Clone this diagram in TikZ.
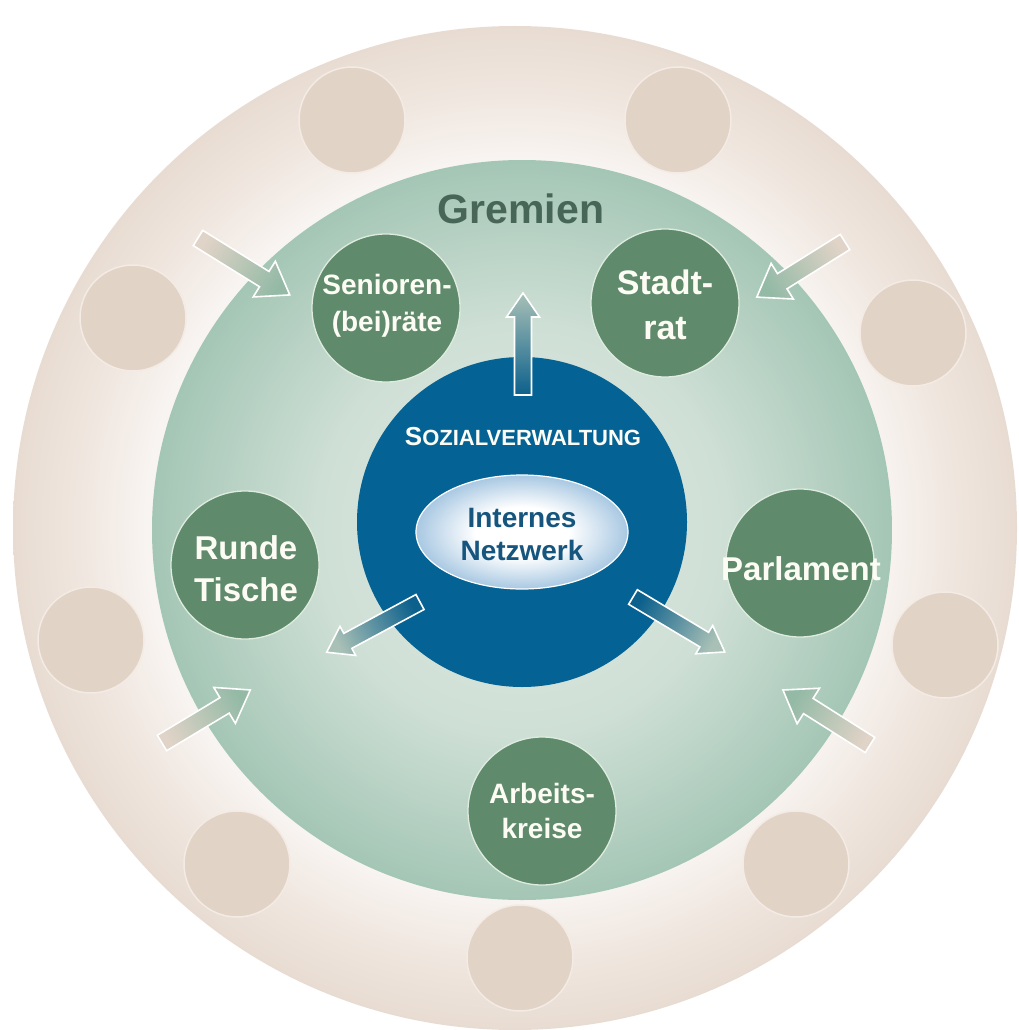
\documentclass[tikz,border=0pt]{standalone}
\usepackage{fontspec}
\setmainfont{Liberation Sans}
\usetikzlibrary{calc}

\definecolor{ringin}{RGB}{248,244,241}
\definecolor{ringmid}{RGB}{240,231,224}
\definecolor{ringout}{RGB}{232,220,210}
\definecolor{tanfill}{RGB}{226,211,199}
\definecolor{tanline}{RGB}{243,235,228}
\definecolor{gin}{RGB}{225,235,229}
\definecolor{gmid}{RGB}{206,223,213}
\definecolor{gout}{RGB}{164,198,181}
\definecolor{gfill}{RGB}{95,138,108}
\definecolor{gline}{RGB}{222,236,222}
\definecolor{blue1}{RGB}{4,99,148}
\definecolor{elout}{RGB}{168,200,226}
\definecolor{gremtext}{RGB}{72,102,88}
\definecolor{nettext}{RGB}{22,86,126}
\definecolor{arrtan}{RGB}{224,211,199}
\definecolor{arrgreen}{RGB}{148,186,166}
\definecolor{arrblue}{RGB}{12,96,140}
\definecolor{arrgrey}{RGB}{168,192,182}
\definecolor{labelwhite}{RGB}{252,252,244}

\pgfdeclareradialshading{ringshade}{\pgfpoint{0bp}{0bp}}{color(0bp)=(ringin); color(18.4bp)=(ringin); color(21.5bp)=(ringmid); color(25bp)=(ringout); color(50bp)=(ringout)}
\pgfdeclareradialshading{greenshade}{\pgfpoint{0bp}{0bp}}{color(0bp)=(gin); color(14bp)=(gmid); color(25bp)=(gout); color(50bp)=(gout)}
\pgfdeclareradialshading{ellshade}{\pgfpoint{0bp}{0bp}}{color(0bp)=(white); color(11bp)=(white); color(25bp)=(elout); color(50bp)=(elout)}

% #1 tail coordinate, #2 angle, #3 shading angle, #4 length
\newcommand\inarrow[4]{%
  \begin{scope}[shift={(#1)}, rotate=#2]
    \shade[top color=arrgreen, bottom color=arrtan, shading angle=#3, draw=white, line width=1.6pt, line join=miter]
      (0,-9) -- ({#4-30},-9) -- ({#4-30},-21) -- (#4,0) -- ({#4-30},21) -- ({#4-30},9) -- (0,9) -- cycle;
  \end{scope}}
\newcommand\outarrow[4]{%
  \begin{scope}[shift={(#1)}, rotate=#2]
    \shade[top color=arrgrey, bottom color=arrblue, shading angle=#3, draw=white, line width=1.6pt, line join=miter]
      (0,-8.5) -- ({#4-24},-8.5) -- ({#4-24},-16.5) -- (#4,0) -- ({#4-24},16.5) -- ({#4-24},8.5) -- (0,8.5) -- cycle;
  \end{scope}}

\begin{document}
\begin{tikzpicture}[x=1pt,y=-1pt,
  tancirc/.style={circle, fill=tanfill, draw=tanline, line width=1.5pt, minimum size=106pt, inner sep=0pt},
  gcirc/.style={circle, fill=gfill, draw=gline, line width=1.3pt, minimum size=148pt, inner sep=0pt},
  glabel/.style={text=labelwhite, align=center, inner sep=0pt},
]
\useasboundingbox (0,0) rectangle (1019,1030);
\fill[white] (0,0) rectangle (1019,1030);

% outer ring
\shade[shading=ringshade] (515,528) circle[radius=502];
% tan circles
\foreach \n/\x/\y in {t1/352/120, t2/678/120, t3/133/318, t4/913/333, t5/91/640, t6/945/645, t7/237/864, t8/796/864, t9/520/958}
  \node[tancirc] (\n) at (\x,\y) {};

% green field
\shade[shading=greenshade] (522,530) circle[radius=370];
\node[text=gremtext, font=\bfseries\fontsize{41}{41}\selectfont, inner sep=0pt] (grem) at (521,209) {Gremien};

% inward arrows
\coordinate (a1t) at (198,238); \coordinate (a1h) at (290,295);
\coordinate (a2t) at (845,242); \coordinate (a2h) at (757,297);
\coordinate (a3t) at (162,743); \coordinate (a3h) at (250,690);
\coordinate (a4t) at (870,745); \coordinate (a4h) at (783,690);
\inarrow{a1t}{-31.8}{-121.8}{108}
\inarrow{a2t}{-148}{122}{104}
\inarrow{a3t}{31}{-59}{103}
\inarrow{a4t}{147.7}{57.7}{103}

% central blue
\node[circle, fill=blue1, minimum size=330pt, inner sep=0pt] (sozial) at (522,522) {};

% green member circles
\node[gcirc] (sen) at (386,308) {};
\node[gcirc] (stadt) at (665,303) {};
\node[gcirc] (runde) at (245,565) {};
\node[gcirc] (parl) at (800,563) {};
\node[gcirc] (arb) at (542,811) {};

\node[glabel, font=\bfseries\fontsize{28}{37}\selectfont] at (387,306) {Senioren-\\(bei)räte};
\node[glabel, font=\bfseries\fontsize{34}{45}\selectfont] at (665,305) {Stadt-\\rat};
\node[glabel, font=\bfseries\fontsize{33}{42}\selectfont] at (246,569) {Runde\\Tische};
\node[glabel, font=\bfseries\fontsize{33}{40}\selectfont] at (801,569) {Parlament};
\node[glabel, font=\bfseries\fontsize{28}{35}\selectfont] at (542,811) {Arbeits-\\kreise};

% outward arrows
\coordinate (a5t) at (523,395); \coordinate (a5h) at (522,293);
\coordinate (a6t) at (420,602); \coordinate (a6h) at (327,652);
\coordinate (a7t) at (633,597); \coordinate (a7h) at (725,652);
\outarrow{a5t}{90}{0}{102}
\outarrow{a6t}{-151.7}{118.3}{106}
\outarrow{a7t}{-30.9}{-120.9}{107}

% inner network
\shade[shading=ellshade, draw=white, line width=1.2pt] (522,532) ellipse[x radius=106, y radius=57];
\node[text=nettext, font=\bfseries\fontsize{28}{33}\selectfont, align=center, inner sep=0pt] (netz) at (522,534) {Internes\\Netzwerk};
\node[text=labelwhite, font=\bfseries, inner sep=0pt] (sv) at (523,437) {{\fontsize{26}{26}\selectfont S}{\fontsize{22}{22}\selectfont OZIALVERWALTUNG}};
\end{tikzpicture}
\end{document}
